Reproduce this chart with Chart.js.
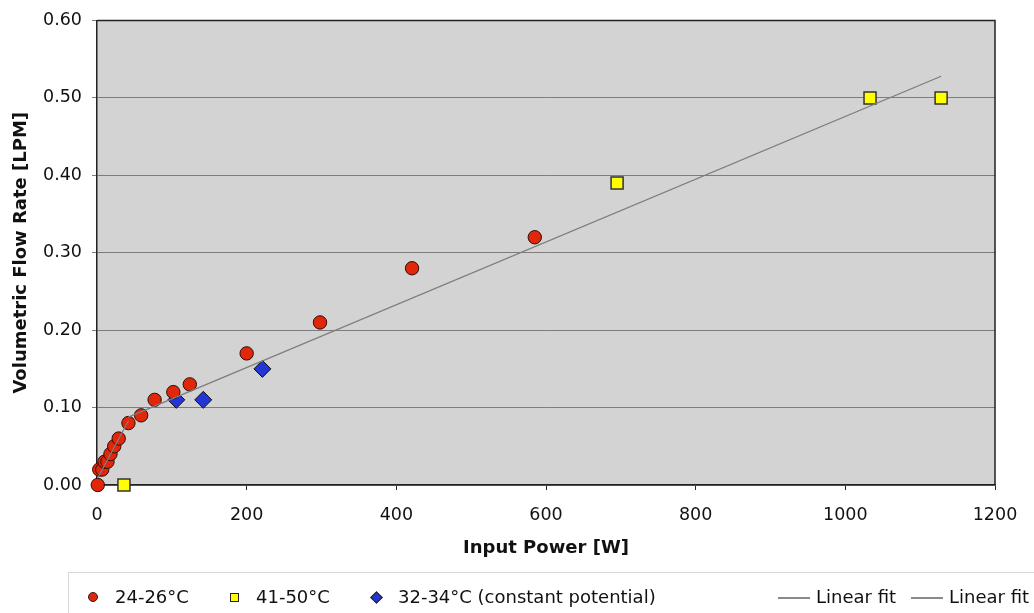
<!DOCTYPE html>
<html>
<head>
<meta charset="utf-8">
<script src="https://cdn.jsdelivr.net/npm/chart.js@4/dist/chart.umd.min.js"></script>
<style>
  html, body { margin: 0; padding: 0; background: #fff; }
  #wrap { position: relative; width: 1034px; height: 613px; overflow: hidden; font-family: 'DejaVu Sans', Verdana, sans-serif; }
  #legend { position: absolute; left: 68px; top: 572px; width: 1000px; height: 60px; border: 1px solid #d8d8d8; box-sizing: border-box; }
  .item { position: absolute; top: 13px; font-size: 18px; color: #111; line-height: 22px; white-space: nowrap; }
  .mk { position: absolute; box-sizing: border-box; border: 1px solid #222; }
  .ln { position: absolute; height: 0; border-top: 2px solid #8a8a8a; }
</style>
</head>
<body>
<div id="wrap">
  <canvas id="chart" width="1034" height="613"></canvas>
  <div id="legend"></div>
</div>
<script>
// 24-26°C
const warmX = [1, 3, 7, 10, 14, 18, 23, 29, 42, 59, 77, 102, 124, 200, 298, 421, 585]
const warmY = [0, 0.02, 0.02, 0.03, 0.03, 0.04, 0.05, 0.06, 0.08, 0.09, 0.11, 0.12, 0.13, 0.17, 0.21, 0.28, 0.32]
// 41-50°C
const hotX = [36, 695, 1033, 1128]
const hotY = [0, 0.39, 0.5, 0.5]
// 32-34°C (constant potential)
const cpX = [106, 142, 221]
const cpY = [0.11, 0.11, 0.15]
// linear fits (end points)
const fitLowX = [1, 42]
const fitLowY = [0.009, 0.083]
const fitHighX = [42, 1128]
const fitHighY = [0.0877, 0.528]

const xTicks = [0, 200, 400, 600, 800, 1000, 1200]
const yTicks = [0, 0.1, 0.2, 0.3, 0.4, 0.5, 0.6]

const toPoints = (xs, ys) => xs.map((x, i) => ({ x, y: ys[i] }))

const plotFrame = {
  id: 'plotFrame',
  beforeDraw: (chart) => {
    const { ctx, chartArea: a } = chart
    ctx.save()
    ctx.fillStyle = '#d3d3d3'
    ctx.fillRect(a.left, a.top, a.right - a.left, a.bottom - a.top)
    ctx.restore()
  },
  afterDatasetsDraw: (chart) => {
    const { ctx, chartArea: a } = chart
    ctx.save()
    ctx.strokeStyle = '#222'
    ctx.lineWidth = 1.5
    ctx.beginPath()
    ctx.moveTo(a.left, a.top)
    ctx.lineTo(a.right, a.top)
    ctx.lineTo(a.right, a.bottom)
    ctx.stroke()
    ctx.restore()
  }
}

const fitStyle = { type: 'line', showLine: true, pointRadius: 0, borderColor: '#7c7c7c', borderWidth: 1.3, fill: false, clip: false, order: 0 }

new Chart(document.getElementById('chart'), {
  type: 'scatter',
  data: {
    datasets: [
      { label: 'Linear fit', data: toPoints(fitLowX, fitLowY), ...fitStyle },
      { label: 'Linear fit', data: toPoints(fitHighX, fitHighY), ...fitStyle },
      {
        label: '24-26°C', data: toPoints(warmX, warmY), pointStyle: 'circle', pointRadius: 6.7,
        backgroundColor: '#e1260a', borderColor: '#2a1008', borderWidth: 1, clip: false, order: 1
      },
      {
        label: '41-50°C', data: toPoints(hotX, hotY), pointStyle: 'rect', pointRadius: 8.5,
        backgroundColor: '#ffff00', borderColor: '#333', borderWidth: 1.5, clip: false, order: 1
      },
      {
        label: '32-34°C (constant potential)', data: toPoints(cpX, cpY), pointStyle: 'rectRot', pointRadius: 8.5,
        backgroundColor: '#2335d4', borderColor: '#111', borderWidth: 1, clip: false, order: 1
      }
    ]
  },
  options: {
    responsive: false,
    animation: false,
    layout: { padding: { top: 18, right: 39, bottom: 53, left: 0 } },
    plugins: { legend: { display: false }, tooltip: { enabled: false } },
    scales: {
      x: {
        type: 'linear', min: 0, max: 1200,
        afterFit: (scale) => { scale.height = 75 },
        afterBuildTicks: (scale) => { scale.ticks = xTicks.map((value) => ({ value })) },
        grid: { drawOnChartArea: false, drawTicks: true, tickLength: 5, color: '#222' },
        border: { color: '#222', width: 1.5 },
        ticks: { color: '#111', padding: 15, font: { family: 'DejaVu Sans', size: 17.5 }, callback: (v) => String(v) },
        title: { display: true, text: 'Input Power [W]', color: '#111', padding: { top: 0, bottom: 1 }, font: { family: 'DejaVu Sans', size: 18, weight: 'bold' } }
      },
      y: {
        type: 'linear', min: 0, max: 0.6,
        afterFit: (scale) => { scale.width = 97 },
        afterBuildTicks: (scale) => { scale.ticks = yTicks.map((value) => ({ value })) },
        grid: { color: '#7d7d7d', lineWidth: 1, drawTicks: true, tickLength: 5 },
        border: { color: '#222', width: 1.5 },
        ticks: { color: '#111', padding: 10, font: { family: 'DejaVu Sans', size: 17.5 }, callback: (v) => v.toFixed(2) },
        title: { display: true, text: 'Volumetric Flow Rate [LPM]', color: '#111', padding: { top: 11, bottom: 0 }, font: { family: 'DejaVu Sans', size: 18, weight: 'bold' } }
      }
    }
  },
  plugins: [plotFrame]
})

// legend drawn as html, positions relative to legend box (left 68, top 572)
const legendItems = [
  { label: '24-26°C', marker: 'circle', color: '#e1260a', mx: 24, tx: 46 },
  { label: '41-50°C', marker: 'square', color: '#ffff00', mx: 165, tx: 187 },
  { label: '32-34°C (constant potential)', marker: 'diamond', color: '#2335d4', mx: 307, tx: 329 },
  { label: 'Linear fit', marker: 'line', mx: 709, tx: 747 },
  { label: 'Linear fit', marker: 'line', mx: 842, tx: 880 }
]

const renderLegend = () => {
  const box = document.getElementById('legend')
  legendItems.forEach((item) => {
    const mk = document.createElement('div')
    if (item.marker === 'line') {
      mk.className = 'ln'
      mk.style.cssText = `left:${item.mx}px;top:24px;width:32px;`
    } else {
      mk.className = 'mk'
      const s = item.marker === 'diamond' ? 9 : item.marker === 'circle' ? 10 : 9
      mk.style.cssText = `left:${item.mx - s / 2}px;top:${24 - s / 2}px;width:${s}px;height:${s}px;background:${item.color};`
      if (item.marker === 'circle') mk.style.borderRadius = '50%'
      if (item.marker === 'diamond') mk.style.transform = 'rotate(45deg)'
    }
    box.appendChild(mk)
    const text = document.createElement('span')
    text.className = 'item'
    text.style.left = `${item.tx}px`
    text.textContent = item.label
    box.appendChild(text)
  })
}

renderLegend()
</script>
</body>
</html>
